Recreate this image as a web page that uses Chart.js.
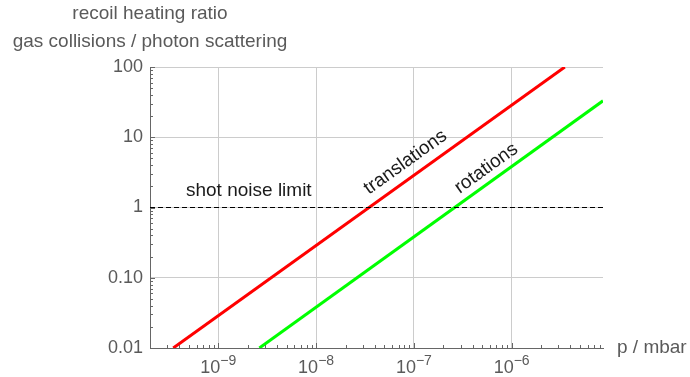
<!DOCTYPE html>
<html>
<head>
<meta charset="utf-8">
<script src="https://cdn.jsdelivr.net/npm/chart.js@4.4.1/dist/chart.umd.min.js"></script>
<style>
  html, body { margin:0; padding:0; background:#fff; }
  #wrap { width:690px; height:377px; position:relative; }
</style>
</head>
<body>
<div id="wrap"><canvas id="c" width="690" height="377"></canvas></div>
<script>
// datos (escala log-log)
const xTicks = [1e-9, 1e-8, 1e-7, 1e-6];
const xTickExps = ['\u22129', '\u22128', '\u22127', '\u22126'];
const yTicks = [0.01, 0.1, 1, 10, 100];
const yTickLabels = ['0.01', '0.10', '1', '10', '100'];

const translations = [{x:3.46e-10, y:0.01}, {x:3.5e-6, y:100}];
const rotations = [{x:2.63e-9, y:0.01}, {x:8.6e-6, y:33}];
const shotNoise = [{x:2e-10, y:1}, {x:8.6e-6, y:1}];

const xMin = 2e-10, xMax = 8.6e-6;
const yMin = 0.01, yMax = 100;

const labels = [
  {text:'shot noise limit', x:2.05e-9, y:1.71, angle:0},
  {text:'translations', x:8.2e-8, y:4.4, angle:-35.6},
  {text:'rotations', x:5.5e-7, y:3.6, angle:-35.6}
];

const FONT = '"Liberation Sans", Arial, sans-serif';
const GRAY = '#5a5a5a';

// marcas menores hacia dentro + etiquetas del eje x con exponente
const axisDeco = {
  id:'axisDeco',
  afterDraw(chart){
    const {ctx, chartArea:a, scales:{x, y}} = chart;
    ctx.save();
    ctx.strokeStyle = '#666';
    ctx.lineWidth = 1;
    // eje x
    for(let d=-10; d<=-5; d++){
      for(let m=1; m<=9; m++){
        const v = m*Math.pow(10,d);
        if(v < xMin || v > xMax) continue;
        const px = Math.round(x.getPixelForValue(v))+0.5;
        const len = m===1 ? 5 : 3;
        ctx.beginPath(); ctx.moveTo(px, a.bottom); ctx.lineTo(px, a.bottom-len); ctx.stroke();
      }
    }
    // eje y
    for(let d=-2; d<=2; d++){
      for(let m=1; m<=9; m++){
        const v = m*Math.pow(10,d);
        if(v < yMin || v > yMax*1.0001) continue;
        const py = Math.round(y.getPixelForValue(v))+0.5;
        const len = m===1 ? 5 : 3;
        ctx.beginPath(); ctx.moveTo(a.left, py); ctx.lineTo(a.left+len, py); ctx.stroke();
      }
    }
    // etiquetas x: 10^n
    ctx.fillStyle = GRAY;
    ctx.textBaseline = 'alphabetic';
    xTicks.forEach((v,i)=>{
      const px = x.getPixelForValue(v);
      ctx.font = '18px ' + FONT;
      const w1 = ctx.measureText('10').width;
      ctx.font = '14px ' + FONT;
      const w2 = ctx.measureText(xTickExps[i]).width;
      const left = px - (w1+w2)/2;
      ctx.font = '18px ' + FONT;
      ctx.textAlign = 'left';
      ctx.fillText('10', left, 373);
      ctx.font = '14px ' + FONT;
      ctx.fillText(xTickExps[i], left+w1, 365);
    });
    // títulos de ejes
    ctx.font = '19px ' + FONT;
    ctx.textAlign = 'center';
    ctx.fillText('recoil heating ratio', a.left, 19);
    ctx.fillText('gas collisions / photon scattering', a.left, 47);
    ctx.textAlign = 'left';
    ctx.textBaseline = 'middle';
    ctx.fillText('p / mbar', 617, a.bottom);
    // anotaciones
    ctx.fillStyle = '#1a1a1a';
    labels.forEach(l=>{
      ctx.save();
      ctx.translate(x.getPixelForValue(l.x), y.getPixelForValue(l.y));
      ctx.rotate(l.angle*Math.PI/180);
      ctx.textAlign = 'center';
      ctx.textBaseline = 'middle';
      ctx.fillText(l.text, 0, 0);
      ctx.restore();
    });
    ctx.restore();
  }
};

new Chart(document.getElementById('c'), {
  type:'scatter',
  data:{
    datasets:[
      {data:shotNoise, showLine:true, borderColor:'#000', borderWidth:1, borderDash:[5,3], pointRadius:0},
      {data:translations, showLine:true, borderColor:'#ff0000', borderWidth:3, pointRadius:0},
      {data:rotations, showLine:true, borderColor:'#00ff00', borderWidth:3, pointRadius:0}
    ]
  },
  options:{
    responsive:false,
    animation:false,
    devicePixelRatio:1,
    layout:{padding:{top:67, right:87, left:0, bottom:0}},
    plugins:{legend:{display:false}, tooltip:{enabled:false}},
    scales:{
      x:{
        type:'logarithmic', min:xMin, max:xMax,
        afterBuildTicks(s){ s.ticks = xTicks.map(v=>({value:v})); },
        afterFit(s){ s.height = 29; },
        ticks:{display:false},
        grid:{color:'#cccccc', lineWidth:1, drawTicks:false},
        border:{color:'#666', width:1}
      },
      y:{
        type:'logarithmic', min:yMin, max:yMax,
        afterBuildTicks(s){ s.ticks = yTicks.map(v=>({value:v})); },
        afterFit(s){ s.width = 150; },
        ticks:{
          padding:7, color:GRAY, font:{family:FONT, size:18}, autoSkip:false,
          callback:(v,i)=>yTickLabels[i]
        },
        grid:{color:'#cccccc', lineWidth:1, drawTicks:false},
        border:{color:'#666', width:1}
      }
    }
  },
  plugins:[axisDeco]
});
</script>
</body>
</html>
